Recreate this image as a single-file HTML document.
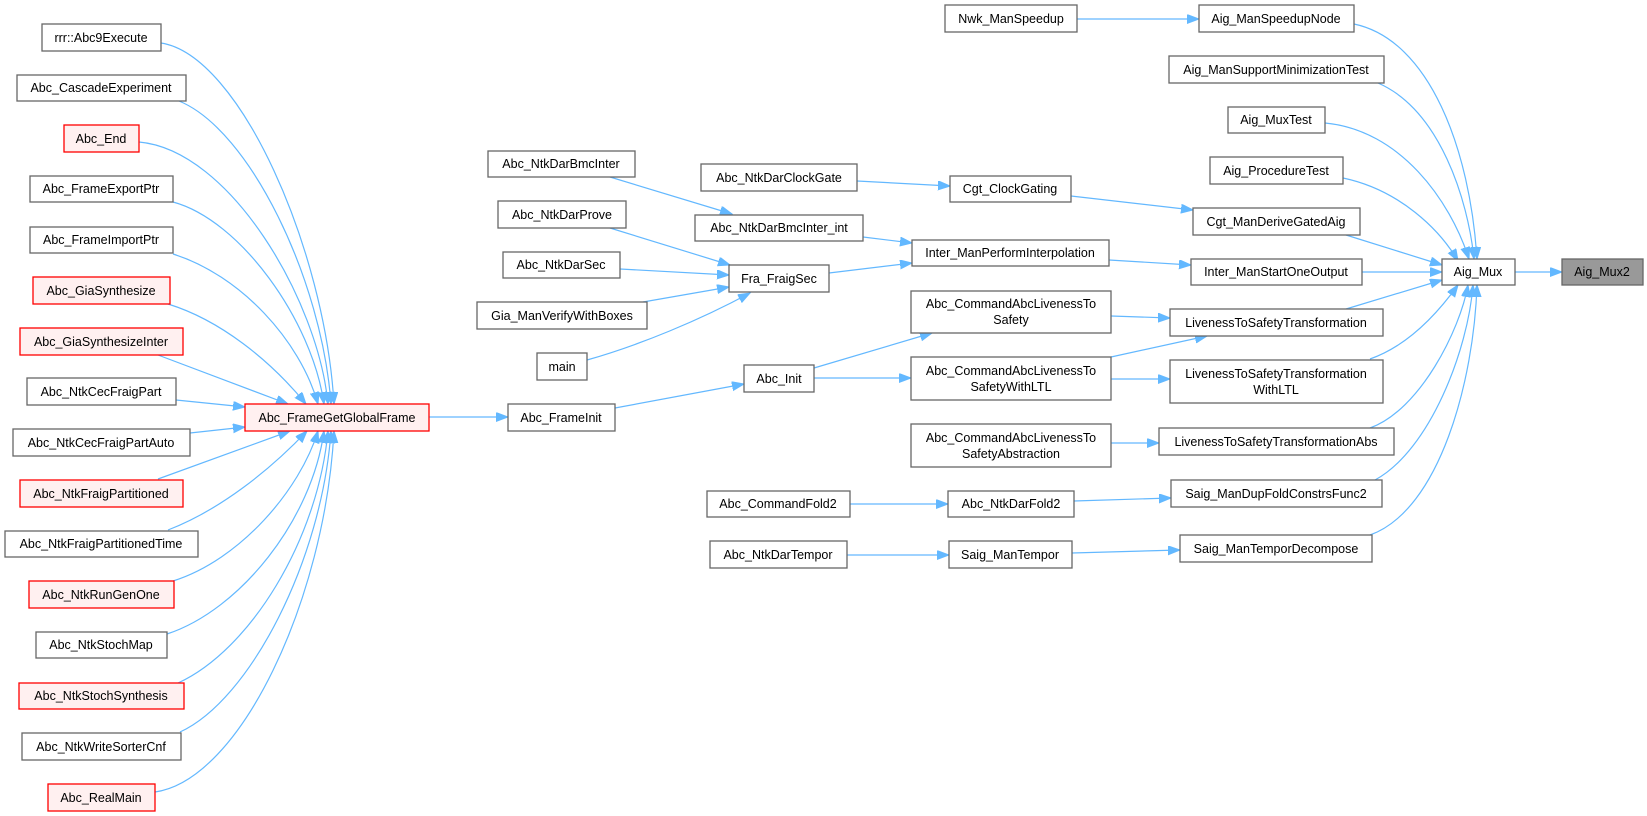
<!DOCTYPE html>
<html><head><meta charset="utf-8"><style>
html,body{margin:0;padding:0;background:#fff;}
svg{display:block;}
text{font-family:"Liberation Sans",Arial,sans-serif;font-size:12.5px;fill:#000;text-anchor:middle;}
.n{fill:#fff;stroke:#666;stroke-width:1.3;}
.r{fill:#fff0f0;stroke:#ff0000;stroke-width:1.3;}
.g{fill:#999;stroke:#666;stroke-width:1.3;}
.e{fill:none;stroke:#63b8ff;stroke-width:1.2;marker-end:url(#a);}
</style></head><body>
<svg width="1647" height="816" viewBox="0 0 1647 816" xmlns="http://www.w3.org/2000/svg">
<defs><marker id="a" markerUnits="userSpaceOnUse" markerWidth="13" markerHeight="10" refX="12" refY="4.5" orient="auto"><path d="M0,0 L12,4.5 L0,9 z" fill="#63b8ff" stroke="#63b8ff"/></marker></defs>

<path class="e" d="M161,43 C240,55 325,250 334,404"/>
<path class="e" d="M179,101 C250,130 322,280 331,404"/>
<path class="e" d="M139,142 C230,150 318,300 328,404"/>
<path class="e" d="M173,202 C240,220 312,320 324,404"/>
<path class="e" d="M173,254 C240,275 300,340 318,404"/>
<path class="e" d="M168,304 C220,320 270,360 306,404"/>
<path class="e" d="M158,355 L288,404"/>
<path class="e" d="M176,400 L245,407"/>
<path class="e" d="M190,433 L245,427"/>
<path class="e" d="M158,479 L290,431"/>
<path class="e" d="M168,530 C220,510 270,470 307,431"/>
<path class="e" d="M173,581 C240,560 300,490 318,431"/>
<path class="e" d="M167,634 C240,610 312,520 324,431"/>
<path class="e" d="M178,683 C250,650 318,540 328,431"/>
<path class="e" d="M180,732 C250,700 322,560 331,431"/>
<path class="e" d="M155,792 C240,780 325,600 334,431"/>

<path class="e" d="M429,417 L508,417"/>
<path class="e" d="M615,408 L744,384"/>
<path class="e" d="M587,360 C640,345 700,320 750,293"/>
<path class="e" d="M643,302 L729,287"/>
<path class="e" d="M620,269 L729,275"/>
<path class="e" d="M610,228 L730,265"/>
<path class="e" d="M610,177 L732,214"/>
<path class="e" d="M857,181 L950,186"/>
<path class="e" d="M863,237 L912,243"/>
<path class="e" d="M829,273 L912,263"/>
<path class="e" d="M814,368 L932,333"/>
<path class="e" d="M814,378 L911,378"/>
<path class="e" d="M1071,196 L1193,210"/>
<path class="e" d="M1109,260 L1191,265"/>
<path class="e" d="M1111,316 L1170,318"/>
<path class="e" d="M1111,357 L1207,336"/>
<path class="e" d="M1111,379 L1170,379"/>
<path class="e" d="M1111,443 L1159,443"/>
<path class="e" d="M1074,501 L1171,498"/>
<path class="e" d="M1072,553 L1180,550"/>
<path class="e" d="M850,504 L948,504"/>
<path class="e" d="M847,555 L949,555"/>
<path class="e" d="M1077,19 L1199,19"/>
<path class="e" d="M1515,272 L1562,272"/>

<path class="e" d="M1354,24 C1430,40 1470,150 1477,259"/>
<path class="e" d="M1378,83 C1440,110 1468,200 1474,259"/>
<path class="e" d="M1325,123 C1400,130 1450,200 1469,259"/>
<path class="e" d="M1343,178 C1400,190 1440,230 1458,261"/>
<path class="e" d="M1346,235 L1442,265"/>
<path class="e" d="M1362,272 L1442,272"/>
<path class="e" d="M1346,309 L1442,280"/>
<path class="e" d="M1370,359 C1410,345 1440,310 1458,285"/>
<path class="e" d="M1370,428 C1420,410 1460,330 1468,285"/>
<path class="e" d="M1375,480 C1430,450 1468,350 1473,285"/>
<path class="e" d="M1370,535 C1440,510 1474,380 1477,285"/>

<rect class="n" x="42" y="24" width="119" height="27"/><text x="101" y="42">rrr::Abc9Execute</text>
<rect class="n" x="17" y="75" width="169" height="26"/><text x="101" y="92">Abc_CascadeExperiment</text>
<rect class="r" x="64" y="125" width="75" height="27"/><text x="101" y="143">Abc_End</text>
<rect class="n" x="30" y="176" width="143" height="26"/><text x="101" y="193">Abc_FrameExportPtr</text>
<rect class="n" x="30" y="227" width="143" height="26"/><text x="101" y="244">Abc_FrameImportPtr</text>
<rect class="r" x="33" y="277" width="137" height="27"/><text x="101" y="295">Abc_GiaSynthesize</text>
<rect class="r" x="20" y="328" width="163" height="27"/><text x="101" y="346">Abc_GiaSynthesizeInter</text>
<rect class="n" x="27" y="378" width="149" height="27"/><text x="101" y="396">Abc_NtkCecFraigPart</text>
<rect class="n" x="13" y="429" width="177" height="27"/><text x="101" y="447">Abc_NtkCecFraigPartAuto</text>
<rect class="r" x="20" y="480" width="163" height="27"/><text x="101" y="498">Abc_NtkFraigPartitioned</text>
<rect class="n" x="5" y="531" width="193" height="26"/><text x="101" y="548">Abc_NtkFraigPartitionedTime</text>
<rect class="r" x="29" y="581" width="145" height="27"/><text x="101" y="599">Abc_NtkRunGenOne</text>
<rect class="n" x="36" y="632" width="131" height="26"/><text x="101" y="649">Abc_NtkStochMap</text>
<rect class="r" x="19" y="683" width="165" height="26"/><text x="101" y="700">Abc_NtkStochSynthesis</text>
<rect class="n" x="22" y="733" width="159" height="27"/><text x="101" y="751">Abc_NtkWriteSorterCnf</text>
<rect class="r" x="48" y="784" width="107" height="27"/><text x="101" y="802">Abc_RealMain</text>

<rect class="r" x="245" y="404" width="184" height="27"/><text x="337" y="422">Abc_FrameGetGlobalFrame</text>
<rect class="n" x="508" y="404" width="107" height="27"/><text x="561" y="422">Abc_FrameInit</text>

<rect class="n" x="488" y="151" width="147" height="26"/><text x="561" y="168">Abc_NtkDarBmcInter</text>
<rect class="n" x="498" y="201" width="128" height="27"/><text x="562" y="219">Abc_NtkDarProve</text>
<rect class="n" x="503" y="252" width="117" height="26"/><text x="561" y="269">Abc_NtkDarSec</text>
<rect class="n" x="477" y="302" width="170" height="27"/><text x="562" y="320">Gia_ManVerifyWithBoxes</text>
<rect class="n" x="537" y="353" width="50" height="27"/><text x="562" y="371">main</text>
<rect class="n" x="701" y="164" width="156" height="27"/><text x="779" y="182">Abc_NtkDarClockGate</text>
<rect class="n" x="695" y="215" width="168" height="26"/><text x="779" y="232">Abc_NtkDarBmcInter_int</text>
<rect class="n" x="729" y="265" width="100" height="27"/><text x="779" y="283">Fra_FraigSec</text>
<rect class="n" x="744" y="365" width="70" height="27"/><text x="779" y="383">Abc_Init</text>
<rect class="n" x="707" y="491" width="143" height="26"/><text x="778" y="508">Abc_CommandFold2</text>
<rect class="n" x="710" y="541" width="137" height="27"/><text x="778" y="559">Abc_NtkDarTempor</text>

<rect class="n" x="945" y="5" width="132" height="27"/><text x="1011" y="23">Nwk_ManSpeedup</text>
<rect class="n" x="950" y="176" width="121" height="26"/><text x="1010" y="193">Cgt_ClockGating</text>
<rect class="n" x="912" y="240" width="197" height="26"/><text x="1010" y="257">Inter_ManPerformInterpolation</text>
<rect class="n" x="911" y="291" width="200" height="42"/><text x="1011" y="308">Abc_CommandAbcLivenessTo</text><text x="1011" y="324">Safety</text>
<rect class="n" x="911" y="357" width="200" height="43"/><text x="1011" y="375">Abc_CommandAbcLivenessTo</text><text x="1011" y="391">SafetyWithLTL</text>
<rect class="n" x="911" y="424" width="200" height="43"/><text x="1011" y="442">Abc_CommandAbcLivenessTo</text><text x="1011" y="458">SafetyAbstraction</text>
<rect class="n" x="948" y="491" width="126" height="26"/><text x="1011" y="508">Abc_NtkDarFold2</text>
<rect class="n" x="949" y="541" width="123" height="27"/><text x="1010" y="559">Saig_ManTempor</text>

<rect class="n" x="1199" y="5" width="155" height="27"/><text x="1276" y="23">Aig_ManSpeedupNode</text>
<rect class="n" x="1169" y="56" width="215" height="27"/><text x="1276" y="74">Aig_ManSupportMinimizationTest</text>
<rect class="n" x="1228" y="107" width="97" height="26"/><text x="1276" y="124">Aig_MuxTest</text>
<rect class="n" x="1210" y="157" width="133" height="27"/><text x="1276" y="175">Aig_ProcedureTest</text>
<rect class="n" x="1193" y="208" width="167" height="27"/><text x="1276" y="226">Cgt_ManDeriveGatedAig</text>
<rect class="n" x="1191" y="259" width="171" height="26"/><text x="1276" y="276">Inter_ManStartOneOutput</text>
<rect class="n" x="1170" y="309" width="213" height="27"/><text x="1276" y="327">LivenessToSafetyTransformation</text>
<rect class="n" x="1170" y="360" width="213" height="43"/><text x="1276" y="378">LivenessToSafetyTransformation</text><text x="1276" y="394">WithLTL</text>
<rect class="n" x="1159" y="428" width="235" height="27"/><text x="1276" y="446">LivenessToSafetyTransformationAbs</text>
<rect class="n" x="1171" y="480" width="211" height="27"/><text x="1276" y="498">Saig_ManDupFoldConstrsFunc2</text>
<rect class="n" x="1180" y="535" width="192" height="27"/><text x="1276" y="553">Saig_ManTemporDecompose</text>

<rect class="n" x="1442" y="259" width="73" height="26"/><text x="1478" y="276">Aig_Mux</text>
<rect class="g" x="1562" y="259" width="81" height="26"/><text x="1602" y="276">Aig_Mux2</text>
</svg>
</body></html>
